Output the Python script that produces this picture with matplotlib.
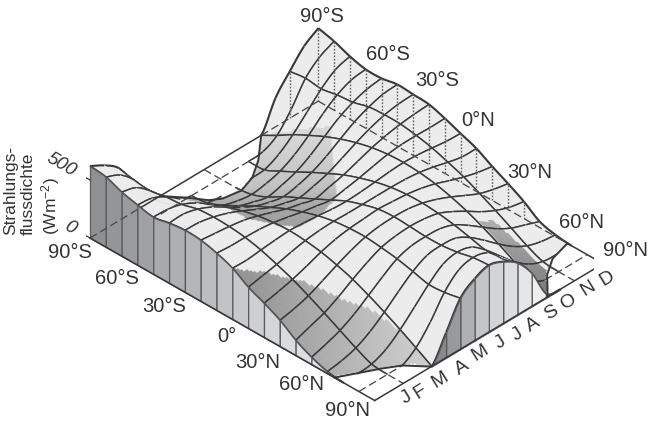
import numpy as np
import matplotlib
matplotlib.use("Agg")
import matplotlib.pyplot as plt
from matplotlib.path import Path
from mpl_toolkits.mplot3d import proj3d
from mpl_toolkits.mplot3d.art3d import Poly3DCollection, Line3DCollection

plt.rcParams['font.family'] = ['Liberation Sans', 'DejaVu Sans']
plt.rcParams['mathtext.default'] = 'regular'

# Breitengrade und Jahresposition (0 = linker Rand, 1 = rechter Rand)
breiten = [-90, -80, -70, -60, -50, -40, -30, -20, -10, 0, 10, 20, 30, 40, 50, 60, 70, 80, 90]
jahr = [0, .0625, .125, .1875, .25, .3125, .375, .4375, .5, .5625, .625, .6875, .75, .8125, .875, .9375, 1]

# Strahlungsflussdichte (Wm-2): Zeile = Breite, Spalte = Jahresposition
strahlung = np.array([
    [620, 552, 456, 267,  99,   0,   0,   0,   0,   0,   0,   0,   0, 248, 404, 546, 629],
    [603, 546, 428, 236,  87,  25,   0,   0,   0,   0,   0,  10,  77, 229, 422, 533, 594],
    [551, 515, 415, 285, 167,  74,  15,   0,   0,   0,   6,  64, 161, 283, 409, 502, 542],
    [517, 502, 440, 347, 236, 143,  74,  37,  19,  37,  72, 139, 233, 345, 434, 490, 508],
    [491, 484, 453, 391, 304, 213, 146, 105,  74, 102, 143, 211, 300, 387, 449, 490, 508],
    [517, 521, 490, 434, 360, 283, 221, 180, 155, 177, 217, 279, 357, 432, 486, 523, 533],
    [533, 527, 500, 459, 405, 345, 288, 252, 223, 248, 285, 342, 403, 456, 496, 518, 525],
    [525, 511, 496, 475, 440, 397, 353, 322, 291, 320, 351, 394, 438, 471, 494, 508, 517],
    [491, 481, 480, 475, 460, 434, 405, 382, 360, 379, 403, 432, 459, 472, 474, 471, 474],
    [439, 436, 449, 461, 469, 461, 449, 434, 428, 434, 446, 459, 466, 459, 444, 428, 422],
    [353, 378, 403, 434, 460, 475, 480, 477, 477, 477, 477, 472, 458, 432, 399, 372, 370],
    [293, 320, 352, 394, 440, 475, 496, 506, 515, 506, 494, 472, 438, 392, 350, 316, 293],
    [223, 250, 288, 345, 405, 459, 500, 521, 527, 521, 497, 456, 403, 342, 285, 248, 223],
    [129, 174, 218, 283, 360, 430, 487, 512, 521, 512, 486, 428, 357, 280, 217, 171, 146],
    [ 61,  99, 145, 213, 300, 389, 467, 505, 512, 505, 465, 387, 298, 211, 143,  97,  52],
    [ 15,  35,  72, 140, 233, 339, 436, 502, 515, 502, 434, 336, 231, 136,  68,  31,  15],
    [  0,   0,  11,  64, 160, 280, 403, 502, 533, 502, 403, 279, 156,  62,  10,   0,   0],
    [  0,   0,   0,   0,  81, 228, 412, 531, 564, 531, 409, 226,  77,   0,   0,   0,   0],
    [  0,   0,   0,   0,   0, 216, 439, 533, 577, 533, 448, 284,  35,   0,   0,   0,   0],
])

# Grenzen der Polarnacht (Breite, Jahresposition)
nacht_sued = [(-90, .307), (-80, .36), (-72, .395), (-68.4, .43), (-66.6, .5), (-70, .572), (-77.4, .65), (-90, .75)]
nacht_nord_vorn = [(64.6, 0), (70, .07), (74.9, .134), (80, .19), (90, .248)]
nacht_nord_hinten = [(90, .757), (77.8, .84), (70.9, .912), (67.5, 1)]

# Schattierte Flaechen (Breite, Jahresposition)
schatten_a = [(0, -.01), (0, 0), (9, .075), (24.3, .145), (41.4, .19), (54.9, .228), (71.1, .25), (90, .25), (90, -.01)]
schatten_b = [(-67.7, .312), (-47.7, .245), (-20.7, .205), (-5.4, .25), (1.8, .29), (0, .40), (-10, .53),
              (-31.5, .66), (-50.4, .78), (-67.5, .765), (-90, .75), (-90, .40), (-80, .33)]
schatten_c = [(45.9, .755), (90, .757), (76, .85), (59.4, .85), (45.5, .83)]

links_farben = ['#8f9092', '#949597', '#9a9b9d', '#a0a1a3', '#a8a9ab', '#aeafb1', '#b4b5b7', '#bbbcbe',
                '#c2c3c5', '#c8c9cb', '#cfd0d2', '#d4d5d7', '#d9dadc', '#dddee0', '#e2e3e5', '#e8e9ea']
rechts_farben = ['#88898b', '#98999b', '#afb0b2', '#c4c5c7', '#d3d4d6', '#dddee0', '#e5e6e8', '#eeeeef', '#f0f0f1']

lat_oben = ['90°S', '60°S', '30°S', '0°N', '30°N', '60°N', '90°N']
lat_oben_pos = [(322, 16), (388, 55), (437, 81), (478, 120), (530, 172), (582, 222), (625, 250)]
lat_unten = ['90°S', '60°S', '30°S', '0°', '30°N', '60°N', '90°N']
lat_unten_pos = [(70, 252), (117, 279), (164, 306), (227, 337), (258, 362), (302, 385), (348, 411)]
monate = ['J', 'F', 'M', 'A', 'M', 'J', 'J', 'A', 'S', 'O', 'N', 'D']
monate_pos = [(406, 398), (420, 392), (440, 380), (462, 368), (480, 353), (500, 343),
              (517, 335), (533, 325), (551, 313), (568, 302), (588, 288), (607, 278)]

B, W = 649, 424
LINIE = '#38383a'
M = 8  # Unterteilung je Zelle, nur fuers Zeichnen


def kurve_glatt(y):
    p = np.concatenate([[2 * y[0] - y[1]], y, [2 * y[-1] - y[-2]]])
    aus = []
    for k in range(len(y) - 1):
        p0, p1, p2, p3 = p[k:k + 4]
        for s in np.arange(M) / M:
            aus.append(.5 * (2 * p1 + (p2 - p0) * s + (2 * p0 - 5 * p1 + 4 * p2 - p3) * s ** 2
                             + (3 * p1 - p0 - 3 * p2 + p3) * s ** 3))
    aus.append(y[-1])
    return np.array(aus)


fein = np.apply_along_axis(kurve_glatt, 1, strahlung.astype(float))
fein = np.clip(np.apply_along_axis(kurve_glatt, 0, fein), 0, None)
lat_fein = np.linspace(-90, 90, fein.shape[0])
t_fein = np.linspace(0, 1, fein.shape[1])

fig = plt.figure(figsize=(B / 100, W / 100), dpi=100)
ax = fig.add_axes([(B - W) / 2 / B, 0, W / B, 1], projection='3d', computed_zorder=False, proj_type='ortho')
ax.view_init(elev=35.8, azim=-45.7)
ax.set_xlim(-90, 90)
ax.set_ylim(0, 1)
ax.set_zlim(0, 650)
ax.set_box_aspect((398, 327, 93))
ax.set_axis_off()

pfade = [Path(p + [p[0]]) for p in (schatten_a, schatten_b, schatten_c)]
nacht = [Path(nacht_sued + [nacht_sued[0]]),
         Path(nacht_nord_vorn + [(90, -.01), (64.6, -.01), nacht_nord_vorn[0]]),
         Path(nacht_nord_hinten + [(90, 1.01), (90, .757)])]


def farbe(lat, t, q):
    u = (lat + 90) / 180
    if any(p.contains_point((lat, t)) for p in nacht):
        return (1, 1, 1)
    if pfade[0].contains_point((lat, t)):
        g = .56 + .24 * np.clip((u - .5 + t) / .7, 0, 1)
    elif pfade[1].contains_point((lat, t)):
        y = 238 + 162 * u - 138 * t - q * .116
        g = np.interp(y, [135, 185, 205, 230], [.84, .76, .66, .60])
    elif pfade[2].contains_point((lat, t)):
        g = np.interp(u, [.75, 1], [.68, .46])
    else:
        g = .925
    return (g, g, min(g + .004, 1))


def zelle(i, j):
    polys, farben = [], []
    for a in range(i * M, (i + 1) * M):
        for b in range(j * M, (j + 1) * M):
            polys.append([(lat_fein[a], t_fein[b], fein[a, b]), (lat_fein[a + 1], t_fein[b], fein[a + 1, b]),
                          (lat_fein[a + 1], t_fein[b + 1], fein[a + 1, b + 1]), (lat_fein[a], t_fein[b + 1], fein[a, b + 1])])
            farben.append(farbe((lat_fein[a] + lat_fein[a + 1]) / 2, (t_fein[b] + t_fein[b + 1]) / 2, fein[a:a + 2, b:b + 2].mean()))
    return polys, farben


def stueck_lat(ii, j):
    # Linie konstanter Breite ueber eine Zelle
    a = ii * M
    idx = np.arange(j * M, (j + 1) * M + 1)
    return np.column_stack([np.full(len(idx), lat_fein[a]), t_fein[idx], fein[a, idx]])


def stueck_zeit(i, jj):
    # Linie konstanter Jahresposition ueber eine Zelle
    b = jj * M
    idx = np.arange(i * M, (i + 1) * M + 1)
    return np.column_stack([lat_fein[idx], np.full(len(idx), t_fein[b]), fein[idx, b]])


# von hinten nach vorn zeichnen, damit die Flaeche sich selbst verdeckt
z = 10
for j in range(len(jahr) - 2, -1, -1):
    for i in range(len(breiten) - 1):
        if strahlung[i:i + 2, j:j + 2].max() == 0:
            continue
        polys, farben = zelle(i, j)
        ax.add_collection3d(Poly3DCollection(polys, facecolors=farben, edgecolors=farben, linewidths=.3, zorder=z),
                            autolim=False)
        z += 1
        seg, bre = [], []
        for ii in (i, i + 1):
            if strahlung[ii, j] + strahlung[ii, j + 1] > 0:
                seg.append(stueck_lat(ii, j))
                bre.append(1.5 if ii in (0, len(breiten) - 1) else 1.05)
        for jj in (j, j + 1):
            if jj % 2 == 0 and strahlung[i, jj] + strahlung[i + 1, jj] > 0:
                seg.append(stueck_zeit(i, jj))
                bre.append(1.5 if jj in (0, len(jahr) - 1) else 1.05)
        ax.add_collection3d(Line3DCollection(seg, colors=LINIE, linewidths=bre, zorder=z), autolim=False)
        z += 1
    # Wand bei 90 Grad Nord
    if strahlung[-1, j] + strahlung[-1, j + 1] > 0:
        oben = stueck_lat(len(breiten) - 1, j)
        wand = [(90, jahr[j], 0), (90, jahr[j + 1], 0)] + [tuple(p) for p in oben[::-1]]
        ax.add_collection3d(Poly3DCollection([wand], facecolors=rechts_farben[j - 4], edgecolors='#5a5a5c',
                                             linewidths=.9, zorder=z), autolim=False)
        z += 1

# Wand bei Jahresbeginn
for i in range(len(links_farben)):
    oben = stueck_zeit(i, 0)
    wand = [(breiten[i], 0, 0), (breiten[i + 1], 0, 0)] + [tuple(p) for p in oben[::-1]]
    ax.add_collection3d(Poly3DCollection([wand], facecolors=links_farben[i], edgecolors='#5a5a5c',
                                         linewidths=.9, zorder=z), autolim=False)
    z += 1
z += 1


def linie(lat, t, q, **kw):
    ax.plot(lat, t, q, color=kw.pop('color', LINIE), zorder=z, **kw)


# Grundflaeche: verdeckte Linien gestrichelt
gestrichelt = dict(linestyle=(0, (6, 3)), linewidth=.95, color='#4a4a4c')
linie([-90, -90], [0, .225], [0, 0], **gestrichelt)
linie([-90, -90], [.75, 1], [0, 0], **gestrichelt)
linie([-80, -80], [.24, .686], [0, 0], **gestrichelt)
linie([-90, -68], [.5, .5], [0, 0], **gestrichelt)
linie([-90, 67.5], [1, 1], [0, 0], **gestrichelt)
linie([80, 80], [0, .19], [0, 0], **gestrichelt)
linie([74, 90], [.125, .125], [0, 0], **gestrichelt)
linie([80, 80], [.815, 1], [0, 0], **gestrichelt)
linie([73, 90], [.875, .875], [0, 0], **gestrichelt)

# Grundflaeche: sichtbare Kanten
linie([-90, 90], [0, 0], [0, 0], linewidth=1.1)
linie([90, 90], [0, 1], [0, 0], linewidth=1.1)
linie([-90, -90], [.225, .75], [0, 0], linewidth=1.1)
linie([67.5, 90], [1, 1], [0, 0], linewidth=1.1)

for kurve in (nacht_sued, nacht_nord_vorn, nacht_nord_hinten):
    la, tt = zip(*kurve)
    linie(la, tt, np.zeros(len(la)), linewidth=1.4)

# gepunktete Senkrechte am hinteren Rand
for i in range(14):
    linie([breiten[i], breiten[i]], [1, 1], [0, strahlung[i, -1]], linestyle=(0, (1.2, 1.2)), linewidth=1, color='#606062')
linie([-90, -90], [.875, .875], [0, strahlung[0, 14]], linestyle=(0, (1.2, 1.2)), linewidth=1, color='#606062')

# Skalenstriche
linie([-98, -90], [0, 0], [500, 500], linewidth=.9)
linie([-98, -90], [0, 0], [0, 0], linewidth=.9)

# Achse so legen, dass die Ecken der Grundflaeche auf die Bildpunkte fallen
fig.canvas.draw()
ecken = proj3d.proj_transform(np.array([-90, 90, 90]), np.array([0, 0, 1]), np.zeros(3), ax.get_proj())
px = ax.transData.transform(np.column_stack(ecken[:2]))
s = (603 - 90) / (px[2, 0] - px[0, 0])
cx = 90 - s * (px[0, 0] - B / 2)
cy = (W - 238) - s * (px[0, 1] - W / 2)
seite = W * s
ax.set_position([(cx - seite / 2) / B, (cy - seite / 2) / W, seite / B, seite / W])


def schrift(x, y, s, **kw):
    fig.text(x / B, 1 - y / W, s, ha='center', va='center', color='#333335', **kw)


for s_, p in zip(lat_oben, lat_oben_pos):
    schrift(p[0], p[1], s_, fontsize=14.5)
for s_, p in zip(lat_unten, lat_unten_pos):
    schrift(p[0], p[1], s_, fontsize=14.5)
for s_, p in zip(monate, monate_pos):
    schrift(p[0], p[1], s_, fontsize=14, rotation=32)
schrift(61, 165, '500', fontsize=13.5, rotation=-30, style='italic')
schrift(70, 228, '0', fontsize=13.5, rotation=-30, style='italic')
schrift(33, 190, 'Strahlungs-\nflussdichte\n(Wm$^{-2}$)', fontsize=12.5, rotation=90, linespacing=1.2, multialignment='left')

fig.savefig('out.png', dpi=100)
